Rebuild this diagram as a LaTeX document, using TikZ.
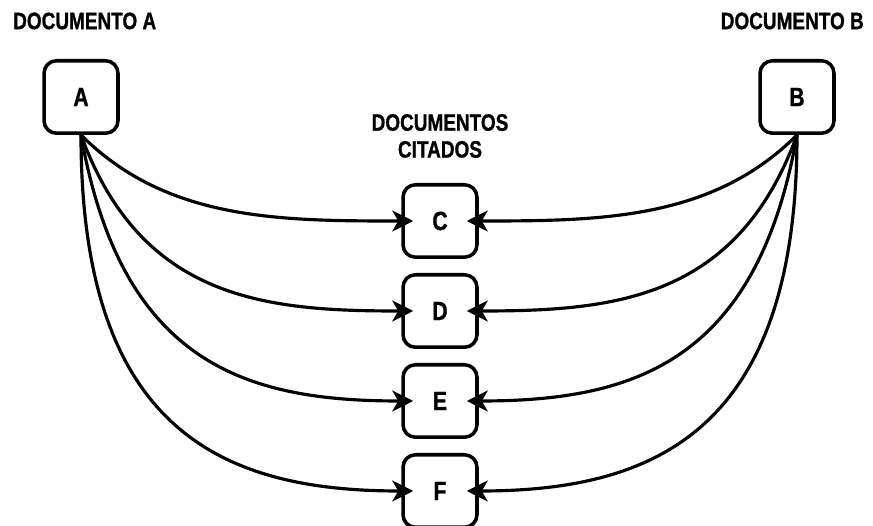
\documentclass[tikz,border=0pt]{standalone}
\usepackage{fontspec}
\setmainfont{Liberation Sans}[FakeStretch=0.8, BoldFeatures={FakeBold=1}]
\usetikzlibrary{arrows.meta}
\tikzset{doc/.style={draw, line width=2pt, rounded corners=0.25cm,
   minimum width=1.48cm, minimum height=1.45cm, inner sep=0pt,
   font=\bfseries\fontsize{15}{17}\selectfont},
 title/.style={font=\bfseries\fontsize{13.5}{15.3}\selectfont, align=center},
 cite/.style={draw, line width=1.8pt,
   -{Stealth[length=0.42cm, width=0.42cm, inset=0.12cm]}},
 }

\begin{document}
\begin{tikzpicture}[x=0.02cm, y=-0.02cm]
        \useasboundingbox (0,0) rectangle (873,526);
        \node[title, anchor=west] (titleA) at (7,21) {DOCUMENTO A};
        \node[title, anchor=east] (titleB) at (870,21) {DOCUMENTO B};
        \node[title] (titleC) at (440,136) {DOCUMENTOS\\CITADOS};
        \node[doc] (A) at (81,97) {A};
        \node[doc] (B) at (797,97) {B};
        \foreach \n/\y in {C/221, D/311, E/401, F/491} {
            \node[doc] (\n) at (440,\y) {\n};
        }
        % curvas: angulo de saida e folga de cada uma
        \foreach \n/\a/\l in {C/-45/0.9, D/-70/1.2, E/-80/1.4, F/-90/1.55} {
            \draw[cite] (A.south) to[out=\a, in=180, out looseness=\l] ([xshift=0.24cm]\n.west);
            \draw[cite] (B.south) to[out=-180-\a, in=0, out looseness=\l] ([xshift=-0.24cm]\n.east);
        }
    \end{tikzpicture}
\end{document}
